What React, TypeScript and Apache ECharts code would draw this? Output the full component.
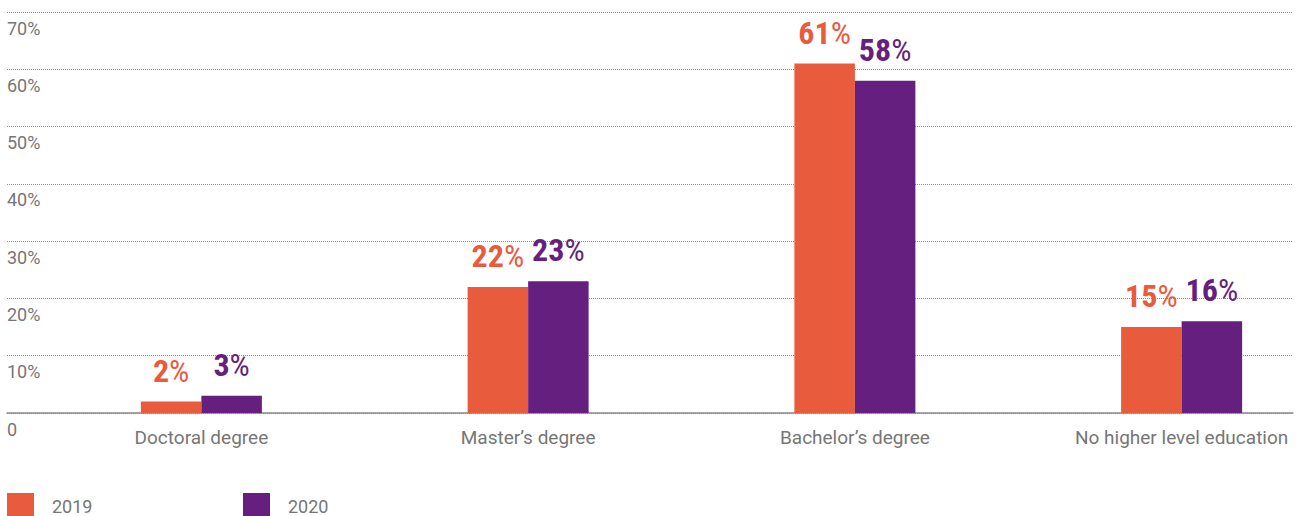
import React, { useEffect, useRef } from "react";
import * as echarts from "echarts";

const categories = ["Doctoral degree", "Master’s degree", "Bachelor’s degree", "No higher level education"];
const values2019 = [2, 22, 61, 15];
const values2020 = [3, 23, 58, 16];
const seriesNames = ["2019", "2020"];
const yTicks = [0, 10, 20, 30, 40, 50, 60, 70];

const ORANGE = "#E95B3D";
const PURPLE = "#651F7E";
const GRAY_TEXT = "#767676";
const LABEL_FONT = '"Roboto Condensed", "Liberation Sans Narrow", "DejaVu Sans Condensed", "Arial Narrow", sans-serif';

const CHART_W = 1350;
const CHART_H = 516;

function labelFor(color: string) {
  return {
    show: true,
    position: "top" as const,
    distance: 15,
    formatter: (p: any) => `{n|${p.value}}{p|%}`,
    rich: {
      n: { fontFamily: LABEL_FONT, fontWeight: "bold", fontSize: 32, color, lineHeight: 32 },
      p: { fontFamily: LABEL_FONT, fontWeight: "normal", fontSize: 32, color, lineHeight: 32 },
    },
  };
}

export default function App() {
  const ref = useRef<HTMLDivElement>(null);
  useEffect(() => {
    if (!ref.current) return;
    const chart = echarts.init(ref.current, undefined, { renderer: "svg" });
    const yMax = yTicks[yTicks.length - 1];
    const legendCommon = {
      top: 488,
      itemWidth: 27,
      itemHeight: 27,
      icon: "rect",
      textStyle: { fontSize: 18, color: GRAY_TEXT, padding: [0, 0, 0, 13] },
    };
    chart.setOption({
      animation: false,
      textStyle: { fontFamily: "Roboto, sans-serif" },
      legend: [
        { ...legendCommon, data: [seriesNames[0]], left: 2 },
        { ...legendCommon, data: [seriesNames[1]], left: 238 },
      ],
      grid: [
        { left: 7, right: CHART_W - 1293, top: 12, bottom: CHART_H - 413, containLabel: false },
        { left: 38, width: 1307, top: 12, bottom: CHART_H - 413, containLabel: false },
      ],
      xAxis: [
        {
          gridIndex: 0,
          type: "category",
          data: categories,
          axisLine: { show: true, lineStyle: { color: "#8a8a8a", width: 1.5 } },
          axisTick: { show: false },
          axisLabel: { show: false },
        },
        {
          gridIndex: 1,
          type: "category",
          data: categories,
          axisLine: { show: false },
          axisTick: { show: false },
          axisLabel: { fontSize: 19, color: GRAY_TEXT, margin: 15, fontFamily: "Roboto, sans-serif" },
        },
      ],
      yAxis: [
        {
          gridIndex: 0,
          type: "value",
          min: 0,
          max: yMax,
          interval: 10,
          axisLine: { show: false },
          axisTick: { show: false },
          splitLine: { show: true, lineStyle: { type: "dotted", color: "#8f8f8f", width: 1 } },
          axisLabel: {
            inside: true,
            margin: 0,
            align: "left",
            verticalAlign: "top",
            padding: [7, 0, 0, 0],
            fontSize: 18,
            color: GRAY_TEXT,
            fontFamily: "Roboto, sans-serif",
            formatter: (v: number) => (v === 0 ? "0" : `${v}%`),
          },
        },
        {
          gridIndex: 1,
          type: "value",
          min: 0,
          max: yMax,
          interval: 10,
          show: false,
          splitLine: { show: false },
        },
      ],
      series: [
        {
          name: seriesNames[0],
          type: "bar",
          xAxisIndex: 1,
          yAxisIndex: 1,
          data: values2019,
          barWidth: 60.5,
          barGap: "0%",
          itemStyle: { color: ORANGE },
          label: labelFor(ORANGE),
        },
        {
          name: seriesNames[1],
          type: "bar",
          xAxisIndex: 1,
          yAxisIndex: 1,
          data: values2020,
          barWidth: 60.5,
          barGap: "0%",
          itemStyle: { color: PURPLE },
          label: labelFor(PURPLE),
        },
      ],
    });
    return () => chart.dispose();
  }, []);
  return (
    <div
      ref={ref}
      style={{ position: "fixed", left: 0, top: 0, width: CHART_W, height: CHART_H, background: "#fff" }}
    />
  );
}
